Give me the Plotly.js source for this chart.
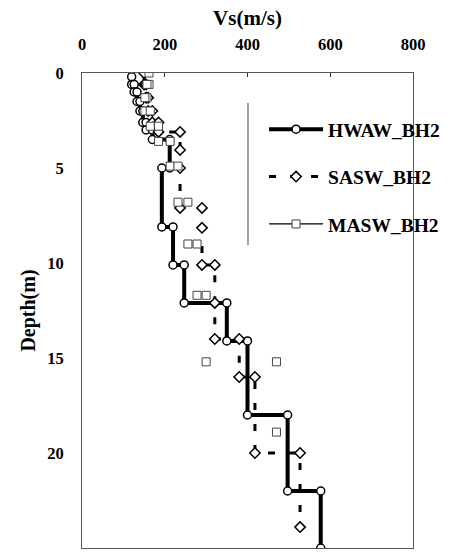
<!DOCTYPE html>
<html>
<head>
<meta charset="utf-8">
<script src="https://cdn.plot.ly/plotly-3.0.1.min.js"></script>
<style>html,body{margin:0;padding:0;background:#fff;}#chart{width:457px;height:557px;}</style>
</head>
<body>
<div id="chart"></div>
<script>
// HWAW_BH2 step profile (Vs in m/s, depth in m)
const hwawVs    = [120, 120, 126, 126, 133, 133, 140, 140, 147, 147, 155, 155, 170, 170, 212, 212, 193, 193, 220, 220, 247, 247, 350, 350, 400, 400, 497, 497, 577, 577];
const hwawDepth = [0.2, 0.6, 0.6, 1.0, 1.0, 1.5, 1.5, 2.0, 2.0, 2.6, 2.6, 3.0, 3.0, 3.5, 3.5, 5.0, 5.0, 8.1, 8.1, 10.1, 10.1, 12.1, 12.1, 14.1, 14.1, 18.0, 18.0, 22.0, 22.0, 25];

// SASW_BH2 step profile
const saswVs    = [150, 150, 155, 155, 160, 160, 170, 170, 185, 185, 237, 237, 237, 237, 290, 290, 290, 321, 321, 321, 380, 380, 418, 418, 527, 527];
const saswDepth = [0.0, 0.6, 0.6, 1.3, 1.3, 2.0, 2.0, 2.6, 2.6, 3.1, 3.1, 4.05, 5.0, 7.1, 7.1, 8.15, 10.1, 10.1, 12.1, 14.0, 14.0, 16.0, 16.0, 20.0, 20.0, 23.9];

// MASW_BH2 step profile
const maswVs    = [162, 162, 157, 157, 152, 152, 165, 165, 185, 185, 213, 213, 232, 232, 256, 256, 278, 278, 300, 300, 470, 470];
const maswDepth = [0.0, 0.6, 0.6, 1.3, 1.3, 2.0, 2.0, 2.8, 2.8, 3.6, 3.6, 4.9, 4.9, 6.8, 6.8, 9.0, 9.0, 11.7, 11.7, 15.2, 15.2, 18.9];

const seriesNames = ['HWAW_BH2', 'SASW_BH2', 'MASW_BH2'];
const xTicks = [0, 200, 400, 600, 800];
const yTicks = [0, 5, 10, 15, 20, 25];

const serif = 'Liberation Serif, Times New Roman, serif';

const traces = [
  {
    x: hwawVs, y: hwawDepth, name: seriesNames[0], type: 'scatter', mode: 'lines+markers',
    legendgroup: 'a',
    line: {color: '#000', width: 4},
    marker: {symbol: 'circle', size: 8, color: '#fff', line: {color: '#000', width: 1.5}}
  },
  {
    x: saswVs, y: saswDepth, name: seriesNames[1], type: 'scatter', mode: 'lines+markers',
    legendgroup: 'b',
    line: {color: '#000', width: 3, dash: '7px,14px'},
    marker: {symbol: 'diamond', size: 8, color: '#fff', line: {color: '#000', width: 1.5}}
  },
  {
    x: maswVs, y: maswDepth, name: seriesNames[2], type: 'scatter', mode: 'markers',
    legendgroup: 'c', showlegend: false,
    marker: {symbol: 'square', size: 8, color: '#fff', line: {color: '#444', width: 1}}
  },
  {
    x: [null], y: [null], name: seriesNames[2], type: 'scatter', mode: 'lines+markers',
    legendgroup: 'c',
    line: {color: '#000', width: 1.2},
    marker: {symbol: 'square', size: 8, color: '#fff', line: {color: '#444', width: 1}}
  }
];

const layout = {
  width: 457, height: 557,
  margin: {l: 82, r: 44, t: 73, b: 9},
  paper_bgcolor: '#fff', plot_bgcolor: '#fff',
  font: {family: serif, color: '#000', size: 16, weight: 700},
  showlegend: true,
  legend: {
    x: 0.55, y: 0.922, xanchor: 'left', yanchor: 'top',
    bgcolor: 'rgba(0,0,0,0)', borderwidth: 0,
    font: {family: serif, size: 19.5, color: '#000', weight: 700},
    tracegroupgap: 19, traceorder: 'grouped', itemwidth: 54
  },
  xaxis: {
    side: 'top', range: [0, 800], tickvals: xTicks, ticktext: xTicks.map(String),
    ticks: 'inside', ticklen: 4, tickcolor: '#333',
    showline: true, mirror: true, linecolor: '#555', linewidth: 1,
    showgrid: false, zeroline: false,
    tickfont: {family: serif, size: 16.5, weight: 700},
    ticklabelstandoff: 15,
    title: {text: 'Vs(m/s)', font: {family: serif, size: 21, weight: 700}, standoff: 4}
  },
  yaxis: {
    range: [25, 0], tickvals: yTicks, ticktext: yTicks.map(String),
    ticks: '', showline: true, mirror: true, linecolor: '#555', linewidth: 1,
    showgrid: false, zeroline: false,
    tickfont: {family: serif, size: 16.5, weight: 700},
    ticklabelstandoff: 14,
    title: {text: 'Depth(m)', font: {family: serif, size: 20, weight: 700}, standoff: 6}
  },
  shapes: [
    {type: 'line', xref: 'paper', yref: 'paper', x0: 0.5015, x1: 0.5015, y0: 0.937, y1: 0.638,
     line: {color: '#444', width: 1}}
  ]
};

Plotly.newPlot('chart', traces, layout, {displayModeBar: false, staticPlot: true});
</script>
</body>
</html>
